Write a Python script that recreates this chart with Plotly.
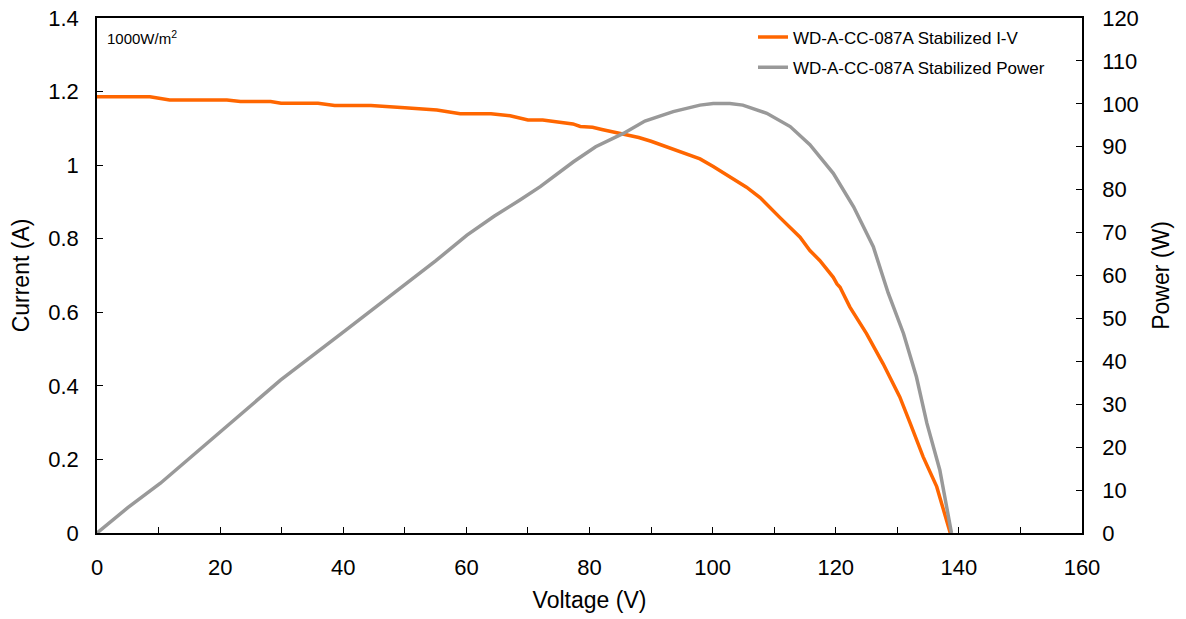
import plotly.graph_objects as go

# I-V curve (Voltage V, Current A)
iv_voltage = [0, 8.6, 11.8, 21.1, 23.3, 28.2, 29.9, 35.9, 38.6, 44.5, 50, 55.2, 59, 64, 67.1, 70,
              72.4, 75.2, 77.3, 78.5, 80.5, 82, 85.5, 88, 90, 93.6, 97.95, 100.1, 103.4, 105.5,
              107.7, 109.8, 110.9, 114.2, 115.8, 117.4, 119.6, 120.2, 120.7, 122.3, 125.0, 127.7,
              130.4, 132.1, 134.2, 136.4, 138.6]
iv_current = [1.186, 1.186, 1.177, 1.177, 1.173, 1.173, 1.168, 1.168, 1.162, 1.162, 1.156, 1.150,
              1.140, 1.140, 1.134, 1.123, 1.123, 1.116, 1.112, 1.105, 1.103, 1.097, 1.084, 1.075,
              1.065, 1.044, 1.017, 0.996, 0.962, 0.940, 0.912, 0.875, 0.858, 0.804, 0.768, 0.741,
              0.695, 0.677, 0.668, 0.614, 0.542, 0.460, 0.370, 0.298, 0.207, 0.126, 0.0]

# Power curve (Voltage V, Power W)
pw_voltage = [0, 5, 10.3, 20, 29.8, 40.1, 49.8, 55, 60.1, 64.5, 68.7, 72, 77.4, 81, 85.5, 89, 93.6,
              97.95, 100.1, 102.8, 104.9, 108.8, 112.6, 115.8, 119.6, 122.9, 126.1, 128.5, 131,
              133.1, 134.8, 136.9, 138.8]
pw_power = [0, 5.9, 11.6, 23.5, 35.6, 46.9, 57.8, 63.4, 69.4, 73.8, 77.6, 80.7, 86.5, 90, 93.1, 96,
            98.2, 99.7, 100.1, 100.1, 99.7, 97.8, 94.7, 90.5, 83.8, 76.0, 66.7, 56, 46.5, 36.4,
            25.6, 14.7, 0]

x_ticks = [0, 20, 40, 60, 80, 100, 120, 140, 160]
y_ticks = [0, 0.2, 0.4, 0.6, 0.8, 1, 1.2, 1.4]
y_ticktext = ["0", "0.2", "0.4", "0.6", "0.8", "1", "1.2", "1.4"]
y2_ticks = [0, 10, 20, 30, 40, 50, 60, 70, 80, 90, 100, 110, 120]

font_family = "Liberation Sans, Arial, sans-serif"

fig = go.Figure()
fig.add_trace(go.Scatter(x=iv_voltage, y=iv_current, mode="lines",
                         name="WD-A-CC-087A Stabilized I-V", legendgroup="a",
                         line=dict(color="#FF6600", width=3.5)))
fig.add_trace(go.Scatter(x=pw_voltage, y=pw_power, mode="lines",
                         name="WD-A-CC-087A Stabilized Power", yaxis="y2", legendgroup="b",
                         line=dict(color="#999999", width=3.5)))

axis_common = dict(showgrid=False, zeroline=False, showline=True, linecolor="black",
                   linewidth=1.5, ticks="inside", ticklen=6, tickcolor="black",
                   automargin=False,
                   tickfont=dict(size=22, color="black", family=font_family))

fig.update_layout(
    width=1186, height=619,
    paper_bgcolor="white", plot_bgcolor="white",
    margin=dict(l=97, r=104, t=18, b=86),
    font=dict(family=font_family, color="black"),
    xaxis=dict(range=[0, 160], tickvals=x_ticks, mirror=True, ticklabelstandoff=14,
               minor=dict(dtick=10, ticks="inside", ticklen=6, tickcolor="black"),
               title=dict(text="Voltage (V)", font=dict(size=23), standoff=13),
               **axis_common),
    yaxis=dict(range=[0, 1.4], tickvals=y_ticks, ticktext=y_ticktext, ticklabelstandoff=12,
               title=dict(text="Current (A)", font=dict(size=23), standoff=12),
               **axis_common),
    yaxis2=dict(range=[0, 120], tickvals=y2_ticks, overlaying="y", side="right",
                ticklabelstandoff=14,
                title=dict(text="Power (W)", font=dict(size=23), standoff=15),
                **axis_common),
    legend=dict(x=0.666, y=0.997, xanchor="left", yanchor="top",
                bgcolor="rgba(0,0,0,0)", font=dict(size=17, color="black"),
                tracegroupgap=5),
    annotations=[dict(text="1000W/m<sup>2</sup>", x=0.008, y=0.985, xref="paper", yref="paper",
                      xanchor="left", yanchor="top", showarrow=False,
                      font=dict(size=15, color="black"))],
)

fig.write_html("out.html", config={"displayModeBar": False},
               post_script="document.body.style.margin='0px';document.body.style.overflow='hidden';")
